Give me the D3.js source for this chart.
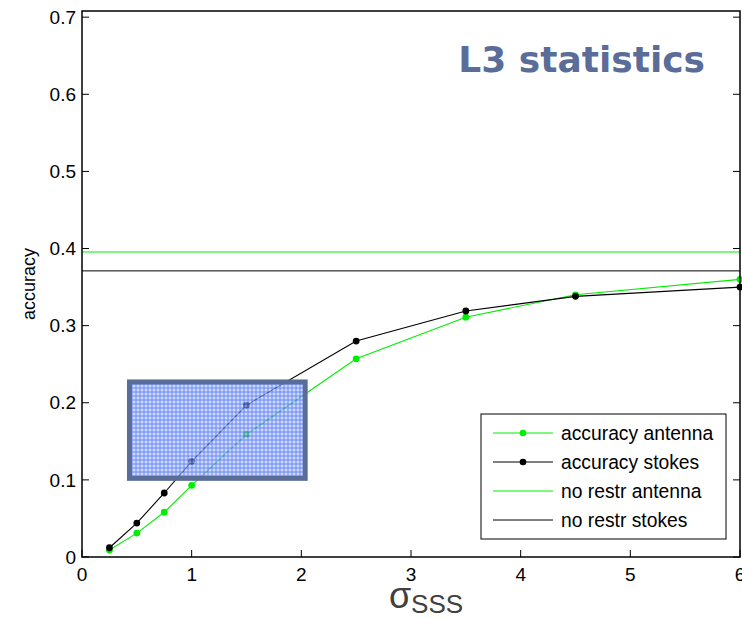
<!DOCTYPE html>
<html>
<head>
<meta charset="utf-8">
<script src="https://cdn.jsdelivr.net/npm/d3@7"></script>
<style>
  html, body { margin: 0; padding: 0; background: #fff; }
  svg { display: block; }
</style>
</head>
<body>
<svg id="chart" width="742" height="619"></svg>
<script>
// ---- data ----
const sigmaValues = [0.25, 0.5, 0.75, 1, 1.5, 2.5, 3.5, 4.5, 6];
const accuracyAntenna = [0.009, 0.031, 0.058, 0.093, 0.159, 0.257, 0.311, 0.340, 0.360];
const accuracyStokes = [0.012, 0.044, 0.083, 0.124, 0.197, 0.280, 0.319, 0.338, 0.350];
const noRestrAntenna = 0.3955;
const noRestrStokes = 0.371;
const xTicks = [0, 1, 2, 3, 4, 5, 6];
const yTicks = [0, 0.1, 0.2, 0.3, 0.4, 0.5, 0.6, 0.7];
const legendLabels = ["accuracy antenna", "accuracy stokes", "no restr antenna", "no restr stokes"];
const highlightBox = { x0: 0.433, x1: 2.035, y0: 0.102, y1: 0.227 };
const titleText = "L3 statistics";

const GREEN = "#00ee00";
const BLACK = "#000000";
const SANS = "'Liberation Sans', Arial, sans-serif";

const svg = d3.select("#chart").style("font-family", SANS);
const x = d3.scaleLinear().domain([0, 6]).range([82, 740]);
const y = d3.scaleLinear().domain([0, 0.708]).range([557, 11]);

// pattern for the highlight box
const defs = svg.append("defs");
const pat = defs.append("pattern").attr("id", "dots").attr("patternUnits", "userSpaceOnUse")
  .attr("width", 4).attr("height", 4);
pat.append("rect").attr("width", 4).attr("height", 4).attr("fill", "#5277f4");
pat.append("rect").attr("x", 1.5).attr("y", 0.5).attr("width", 1).attr("height", 3).attr("fill", "#dfe7ff");
pat.append("rect").attr("x", 0.5).attr("y", 1.5).attr("width", 3).attr("height", 1).attr("fill", "#dfe7ff");

// horizontal reference lines
svg.append("line").attr("x1", x(0)).attr("x2", x(6)).attr("y1", y(noRestrAntenna)).attr("y2", y(noRestrAntenna))
  .attr("stroke", GREEN).attr("stroke-width", 1);
svg.append("line").attr("x1", x(0)).attr("x2", x(6)).attr("y1", y(noRestrStokes)).attr("y2", y(noRestrStokes))
  .attr("stroke", BLACK).attr("stroke-width", 1);

// series
const line = d3.line().x(d => x(d[0])).y(d => y(d[1]));
function drawSeries(vals, color) {
  const pts = sigmaValues.map((s, i) => [s, vals[i]]);
  svg.append("path").datum(pts).attr("d", line).attr("fill", "none")
    .attr("stroke", color).attr("stroke-width", 1.1);
  svg.append("g").selectAll("circle").data(pts).join("circle")
    .attr("cx", d => x(d[0])).attr("cy", d => y(d[1])).attr("r", 3.4).attr("fill", color);
}
drawSeries(accuracyAntenna, GREEN);
drawSeries(accuracyStokes, BLACK);

// highlight box (semi-transparent over lines)
svg.append("rect")
  .attr("x", x(highlightBox.x0)).attr("y", y(highlightBox.y1))
  .attr("width", x(highlightBox.x1) - x(highlightBox.x0))
  .attr("height", y(highlightBox.y0) - y(highlightBox.y1))
  .attr("fill", "url(#dots)").attr("fill-opacity", 0.72)
  .attr("stroke", "#5a6d98").attr("stroke-width", 5);

// frame
svg.append("rect").attr("x", x(0)).attr("y", y(0.708)).attr("width", x(6) - x(0)).attr("height", y(0) - y(0.708))
  .attr("fill", "none").attr("stroke", "#000").attr("stroke-width", 1.5);

// ticks (inward) and labels
const tickLen = 7;
const g = svg.append("g");
yTicks.forEach(t => {
  g.append("line").attr("x1", x(0)).attr("x2", x(0) + tickLen).attr("y1", y(t)).attr("y2", y(t)).attr("stroke", "#000");
  g.append("line").attr("x1", x(6)).attr("x2", x(6) - tickLen).attr("y1", y(t)).attr("y2", y(t)).attr("stroke", "#000");
  g.append("text").attr("x", x(0) - 6).attr("y", y(t)).attr("dy", "0.35em").attr("text-anchor", "end")
    .attr("font-size", 19).attr("fill", "#000").text(t === 0 ? "0" : d3.format(".1f")(t));
});
xTicks.forEach(t => {
  g.append("line").attr("x1", x(t)).attr("x2", x(t)).attr("y1", y(0)).attr("y2", y(0) - tickLen).attr("stroke", "#000");
  g.append("text").attr("x", x(t)).attr("y", y(0) + 24).attr("text-anchor", "middle")
    .attr("font-size", 19).attr("fill", "#000").text(d3.format("d")(t));
});

// axis labels
svg.append("text").attr("transform", `translate(35,${(y(0) + y(0.708)) / 2}) rotate(-90)`)
  .attr("text-anchor", "middle").attr("font-size", 18).attr("fill", "#000").text("accuracy");
const xl = svg.append("text").attr("x", 426).attr("y", 608).attr("text-anchor", "middle")
  .attr("fill", "#404040");
xl.append("tspan").attr("font-size", 36).text("σ");
xl.append("tspan").attr("font-size", 26).attr("dy", 5).text("SSS");

// title
svg.append("text").attr("x", 705).attr("y", 72).attr("text-anchor", "end")
  .style("font-family", "'DejaVu Sans', Verdana, sans-serif").attr("font-weight", "bold")
  .attr("font-size", 36).attr("fill", "#5a6d98").text(titleText);

// legend
const lg = svg.append("g");
lg.append("rect").attr("x", 481).attr("y", 414).attr("width", 245).attr("height", 125)
  .attr("fill", "#fff").attr("stroke", "#000").attr("stroke-width", 1);
const legendRows = [
  { label: legendLabels[0], color: GREEN, marker: true },
  { label: legendLabels[1], color: BLACK, marker: true },
  { label: legendLabels[2], color: GREEN, marker: false },
  { label: legendLabels[3], color: BLACK, marker: false }
];
legendRows.forEach((r, i) => {
  const ly = 433 + i * 29;
  lg.append("line").attr("x1", 493).attr("x2", 553).attr("y1", ly).attr("y2", ly)
    .attr("stroke", r.color).attr("stroke-width", 1);
  if (r.marker) lg.append("circle").attr("cx", 523).attr("cy", ly).attr("r", 3.3).attr("fill", r.color);
  lg.append("text").attr("x", 561).attr("y", ly).attr("dy", "0.35em").attr("font-size", 19.3)
    .attr("fill", "#000").text(r.label);
});
</script>
</body>
</html>
